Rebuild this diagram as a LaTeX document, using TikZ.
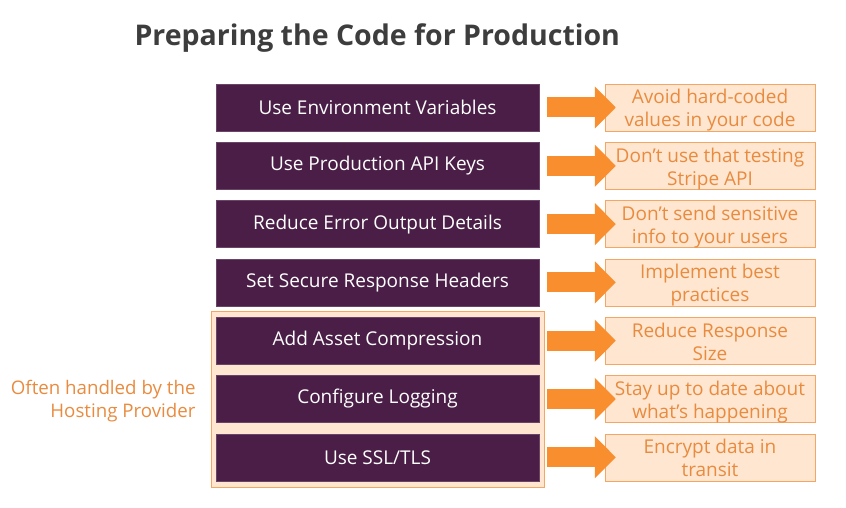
\documentclass[tikz,border=0pt]{standalone}
\usepackage{fontspec}
\setmainfont{Open Sans}
\newfontfamily\headfont{Open Sans}
\usetikzlibrary{arrows.meta}
\definecolor{plum}{HTML}{4A1E47}
\definecolor{plumedge}{HTML}{6A4466}
\definecolor{peach}{HTML}{FEE6D0}
\definecolor{peachedge}{HTML}{F4A764}
\definecolor{amber}{HTML}{E98B3F}
\definecolor{carrot}{HTML}{F98E2F}
\definecolor{slate}{HTML}{3D3D3D}

\begin{document}
\begin{tikzpicture}
[x=1pt,y=-1pt,%
  task/.style={shape=rectangle,fill=plum,draw=plumedge,thin,minimum width=323pt,minimum height=47pt,inner sep=0pt,text=white,font=\fontsize{19}{22}\selectfont},%
  note/.style={shape=rectangle,fill=peach,draw=peachedge,thin,minimum width=210pt,minimum height=47pt,inner sep=0pt,text=amber,align=center,font=\fontsize{19}{23}\selectfont,text height=43pt,text depth=4pt},%
  push/.style={-{Triangle[length=21pt,width=41pt]},line width=20pt,draw=carrot}]
\useasboundingbox (0,0) rectangle (846,508);
% title
\node[anchor=west,text=slate,font=\headfont\bfseries\fontsize{28.5}{31}\selectfont] (title) at (131,38) {Preparing the Code for Production};
% frame round the hosting group
\node[shape=rectangle,fill=peach,draw=peachedge,thin,minimum width=333pt,minimum height=176pt] (host) at (377.5,399) {};
\node[anchor=east,text=amber,align=right,font=\fontsize{18.7}{23}\selectfont] (hostlabel) at (199,401) {Often handled by the\\Hosting Provider};
% steps
\node[task] (env) at (377.5,107.5) {Use Environment Variables};
\node[task] (keys) at (377.5,165.8) {Use Production API Keys};
\node[task] (errors) at (377.5,224.1) {Reduce Error Output Details};
\node[task] (headers) at (377.5,282.4) {Set Secure Response Headers};
\node[task] (compress) at (377.5,340.7) {Add Asset Compression};
\node[task] (logging) at (377.5,399) {Configure Logging};
\node[task] (ssl) at (377.5,457.3) {Use SSL/TLS};
% notes
\node[note] (envnote) at (710,107.5) {Avoid hard-coded\\values in your code};
\node[note] (keysnote) at (710,165.8) {Don’t use that testing\\Stripe API};
\node[note] (errorsnote) at (710,224.1) {Don’t send sensitive\\info to your users};
\node[note] (headersnote) at (710,282.4) {Implement best\\practices};
\node[note] (compressnote) at (710,340.7) {Reduce Response\\Size};
\node[note] (loggingnote) at (710,399) {Stay up to date about\\what’s happening};
\node[note] (sslnote) at (710,457.3) {Encrypt data in\\transit};
% arrows
\draw[push] ([xshift=8pt]env.east) -- ([xshift=11pt]envnote.west);
\draw[push] ([xshift=8pt]keys.east) -- ([xshift=11pt]keysnote.west);
\draw[push] ([xshift=8pt]errors.east) -- ([xshift=11pt]errorsnote.west);
\draw[push] ([xshift=8pt]headers.east) -- ([xshift=11pt]headersnote.west);
\draw[push] ([xshift=8pt]compress.east) -- ([xshift=11pt]compressnote.west);
\draw[push] ([xshift=8pt]logging.east) -- ([xshift=11pt]loggingnote.west);
\draw[push] ([xshift=8pt]ssl.east) -- ([xshift=11pt]sslnote.west);
\end{tikzpicture}
\end{document}
